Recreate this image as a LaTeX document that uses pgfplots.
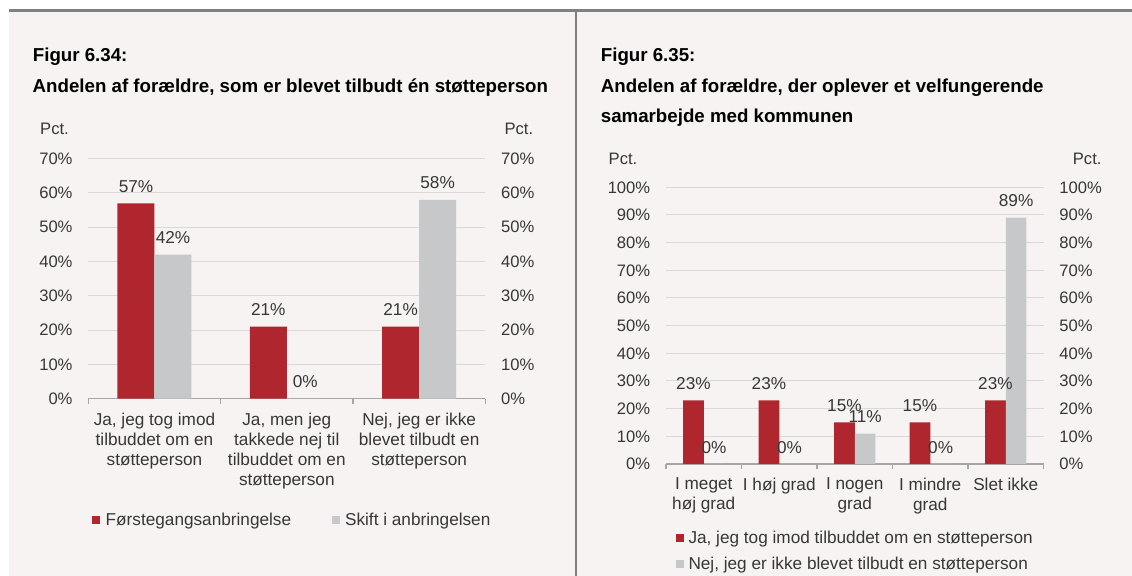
\documentclass[border=0pt]{standalone}
\usepackage{pgfplots}
\pgfplotsset{compat=1.18}
\usepackage{fontspec}
\setmainfont{Liberation Sans}
\definecolor{barred}{RGB}{176,38,46}
\definecolor{bargray}{RGB}{199,200,202}
\definecolor{panelbg}{RGB}{246,243,242}
\definecolor{gridgray}{RGB}{217,217,217}
\definecolor{axisgray}{RGB}{166,166,166}
\definecolor{txtgray}{RGB}{55,55,55}
\definecolor{framegray}{RGB}{128,128,128}
\newcommand{\tf}{\fontsize{16.6bp}{20bp}\selectfont}
\newcommand{\lf}{\fontsize{17.2bp}{20bp}\selectfont}
\newcommand{\hf}{\fontsize{18.7bp}{22bp}\selectfont\bfseries}

\pgfplotsset{
  mybase/.style={
    scale only axis,
    ybar=0pt,
    clip=false,
    enlargelimits=false,
    axis x line*=bottom,
    axis y line*=left,
    x axis line style={draw=axisgray, line width=1.3bp, -},
    y axis line style={draw=none},
    ymin=0,
    ymajorgrids,
    grid style={draw=gridgray, line width=1bp},
    major tick length=0pt,
    minor tick length=5bp,
    tick align=outside,
    minor x tick style={draw=axisgray, line width=1.3bp},
    ytick style={draw=none},
    yticklabel={\pgfmathprintnumber{\tick}\%},
    yticklabel style={font=\tf, text=txtgray, anchor=east, inner sep=0pt, xshift=-15.6bp},
    xticklabel style={font=\lf, text=txtgray, align=center, anchor=north, inner sep=0pt, yshift=-13.9bp},
    /pgf/number format/assume math mode=true,
    nodes near coords={\pgfmathprintnumber{\pgfplotspointmeta}\%},
    every node near coord/.append style={font=\lf, text=txtgray, anchor=south, inner sep=0pt, yshift=10.5bp},
    legend style={draw=none, fill=none, font=\lf, text=txtgray, inner sep=0pt, outer sep=0pt, nodes={inner sep=0pt}},
    legend cell align=left,
    legend image code/.code={\fill[#1, draw=none] (0bp,-4bp) rectangle (8bp,4bp);},
  },
  rightlabels/.style={
    scale only axis,
    enlargelimits=false,
    axis x line=none,
    axis y line*=right,
    y axis line style={draw=none},
    ytick style={draw=none},
    major tick length=0pt,
    ymin=0,
    yticklabel={\pgfmathprintnumber{\tick}\%},
    yticklabel style={font=\tf, text=txtgray, anchor=west, inner sep=0pt, xshift=15.6bp},
    /pgf/number format/assume math mode=true,
  }
}

\begin{document}
\begin{tikzpicture}[x=1bp,y=1bp]
\useasboundingbox (0,0) rectangle (1132,576);
\fill[white] (0,0) rectangle (1132,576);
\fill[panelbg] (8.5,0) rectangle (1132,565.3);
\draw[framegray, line width=2.5bp] (8.5,565.3) -- (1132,565.3);
\draw[framegray, line width=2bp] (575.7,0) -- (575.7,565.3);

% ---------- Left panel ----------
\node[anchor=base west, inner sep=0pt, font=\hf] at (32.7,514.3) {Figur 6.34:};
\node[anchor=base west, inner sep=0pt, font=\hf] at (32.5,483.7) {Andelen af forældre, som er blevet tilbudt én støtteperson};
\node[anchor=base west, inner sep=0pt, font=\tf, text=txtgray] at (40,441) {Pct.};
\node[anchor=base east, inner sep=0pt, font=\tf, text=txtgray] at (533.4,441) {Pct.};

\begin{axis}[mybase,
  at={(88.3bp,177.3bp)}, anchor=south west,
  width=397bp, height=240bp,
  xmin=-0.5, xmax=2.5, ymax=70,
  ytick={0,10,...,70},
  xtick={0,1,2},
  minor xtick={-0.5,0.5,1.5,2.5},
  xticklabels={{Ja, jeg tog imod\\tilbuddet om en\\støtteperson},{Ja, men jeg\\takkede nej til\\tilbuddet om en\\støtteperson},{Nej, jeg er ikke\\blevet tilbudt en\\støtteperson}},
  bar width=37bp,
  legend columns=2,
  legend style={at={(axis description cs:0,0)}, anchor=north west, xshift=4bp, yshift=-114bp,
    /tikz/every odd column/.append style={column sep=5.4bp},
    /tikz/every even column/.append style={column sep=40.5bp}},
]
\addplot[fill=barred, draw=none] coordinates {(0,57) (1,21) (2,21)};
\addplot[fill=bargray, draw=none] coordinates {(0,42) (1,0) (2,58)};
\legend{Førstegangsanbringelse, Skift i anbringelsen}
\end{axis}
\begin{axis}[rightlabels,
  at={(88.3bp,177.3bp)}, anchor=south west,
  width=397bp, height=240bp,
  xmin=-0.5, xmax=2.5, ymax=70,
  ytick={0,10,...,70},
]
\addplot[draw=none] coordinates {(0,0)};
\end{axis}

% ---------- Right panel ----------
\node[anchor=base west, inner sep=0pt, font=\hf] at (600.7,514.3) {Figur 6.35:};
\node[anchor=base west, inner sep=0pt, font=\hf] at (600.7,483.7) {Andelen af forældre, der oplever et velfungerende};
\node[anchor=base west, inner sep=0pt, font=\hf] at (600.7,453.7) {samarbejde med kommunen};
\node[anchor=base west, inner sep=0pt, font=\tf, text=txtgray] at (608.5,411) {Pct.};
\node[anchor=base east, inner sep=0pt, font=\tf, text=txtgray] at (1101.7,411) {Pct.};

\begin{axis}[mybase,
  at={(666bp,112bp)}, anchor=south west,
  width=377.5bp, height=276.7bp,
  xmin=-0.5, xmax=4.5, ymax=100,
  ytick={0,10,...,100},
  xtick={0,1,2,3,4},
  minor xtick={-0.5,0.5,1.5,2.5,3.5,4.5},
  xticklabels={{I meget\\høj grad},{I høj grad},{I nogen\\grad},{I mindre\\grad},{Slet ikke}},
  bar width=20.7bp,
  legend columns=1,
  legend style={at={(axis description cs:0,0)}, anchor=north west, xshift=10bp, yshift=-66.6bp,
    row sep=12.8bp,
    /tikz/every odd column/.append style={column sep=4.5bp}},
]
\addplot[fill=barred, draw=none] coordinates {(0,23) (1,23) (2,15) (3,15) (4,23)};
\addplot[fill=bargray, draw=none] coordinates {(0,0) (1,0) (2,11) (3,0) (4,89)};
\legend{{Ja, jeg tog imod tilbuddet om en støtteperson}, {Nej, jeg er ikke blevet tilbudt en støtteperson}}
\end{axis}
\begin{axis}[rightlabels,
  at={(666bp,112bp)}, anchor=south west,
  width=377.5bp, height=276.7bp,
  xmin=-0.5, xmax=4.5, ymax=100,
  ytick={0,10,...,100},
]
\addplot[draw=none] coordinates {(0,0)};
\end{axis}
\end{tikzpicture}
\end{document}
